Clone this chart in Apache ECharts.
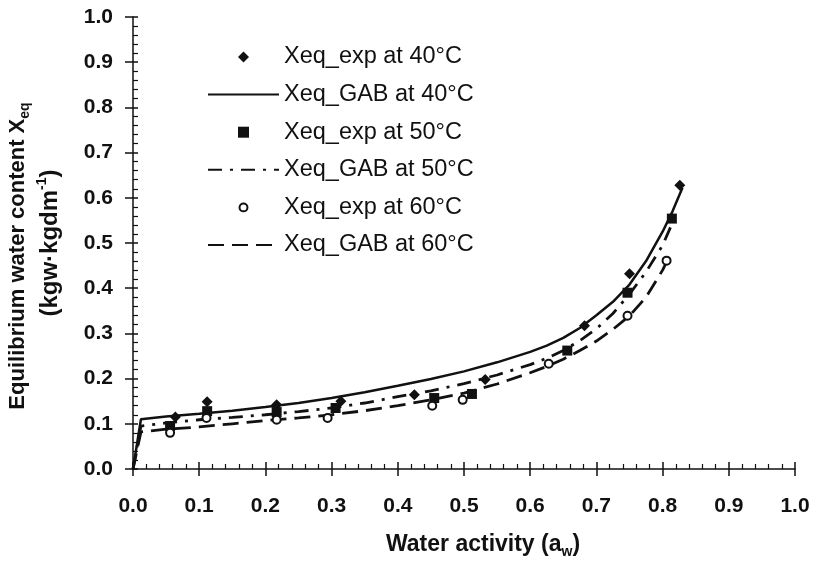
<!DOCTYPE html>
<html>
<head>
<meta charset="utf-8">
<script src="https://cdn.jsdelivr.net/npm/echarts@6/dist/echarts.min.js"></script>
<style>
  html, body { margin: 0; padding: 0; background: #fff; }
  #chart { width: 816px; height: 563px; }
</style>
</head>
<body>
<div id="chart"></div>
<script>
// Experimental sorption points (water activity, equilibrium water content)
const awExp40  = [0.064, 0.112, 0.217, 0.314, 0.425, 0.532, 0.682, 0.750, 0.826];
const xeqExp40 = [0.115, 0.149, 0.142, 0.150, 0.164, 0.198, 0.317, 0.432, 0.628];

const awExp50  = [0.056, 0.112, 0.217, 0.306, 0.455, 0.512, 0.656, 0.747, 0.814];
const xeqExp50 = [0.095, 0.128, 0.126, 0.135, 0.157, 0.166, 0.262, 0.390, 0.554];

const awExp60  = [0.056, 0.111, 0.217, 0.294, 0.452, 0.498, 0.628, 0.747, 0.806];
const xeqExp60 = [0.080, 0.113, 0.109, 0.113, 0.140, 0.153, 0.233, 0.339, 0.461];

// GAB model curves
const awGab40  = [0, 0.012, 0.05, 0.1, 0.15, 0.2, 0.25, 0.3, 0.35, 0.4, 0.45, 0.5, 0.55, 0.6, 0.625, 0.65, 0.675, 0.7, 0.725, 0.75, 0.775, 0.8, 0.815, 0.83];
const xeqGab40 = [0, 0.110, 0.116, 0.122, 0.129, 0.137, 0.146, 0.157, 0.170, 0.184, 0.199, 0.216, 0.236, 0.259, 0.273, 0.290, 0.312, 0.340, 0.370, 0.408, 0.460, 0.525, 0.570, 0.622];

const awGab50  = [0, 0.012, 0.05, 0.1, 0.15, 0.2, 0.25, 0.3, 0.35, 0.4, 0.45, 0.5, 0.55, 0.6, 0.625, 0.65, 0.675, 0.7, 0.725, 0.75, 0.775, 0.8, 0.815];
const xeqGab50 = [0, 0.095, 0.102, 0.109, 0.114, 0.120, 0.127, 0.135, 0.146, 0.160, 0.173, 0.189, 0.208, 0.231, 0.245, 0.262, 0.284, 0.310, 0.344, 0.387, 0.436, 0.495, 0.545];

const awGab60  = [0, 0.012, 0.05, 0.1, 0.15, 0.2, 0.25, 0.3, 0.35, 0.4, 0.45, 0.5, 0.55, 0.6, 0.625, 0.65, 0.675, 0.7, 0.725, 0.75, 0.775, 0.8, 0.81];
const xeqGab60 = [0, 0.082, 0.088, 0.093, 0.100, 0.107, 0.113, 0.120, 0.129, 0.140, 0.153, 0.168, 0.188, 0.213, 0.227, 0.243, 0.262, 0.283, 0.309, 0.339, 0.380, 0.440, 0.470];

const seriesNames = [
  'Xeq_exp at 40°C', 'Xeq_GAB at 40°C',
  'Xeq_exp at 50°C', 'Xeq_GAB at 50°C',
  'Xeq_exp at 60°C', 'Xeq_GAB at 60°C'
];
const axisTicks = [0, 0.1, 0.2, 0.3, 0.4, 0.5, 0.6, 0.7, 0.8, 0.9, 1.0];

const INK = '#111';
const FONT = '"Liberation Sans", Arial, sans-serif';
const pairs = (xs, ys) => xs.map((x, i) => [x, ys[i]]);

// legend marker outlines (kept square so they are not stretched)
const ICON_DIAMOND = 'path://M5,0L10,5L5,10L0,5Z';
const ICON_SQUARE  = 'path://M0.5,0.5L9.5,0.5L9.5,9.5L0.5,9.5Z';
const ICON_CIRCLE  = 'path://M0,0M10,10M5,1.4A3.6,3.6,0,1,1,5,8.6A3.6,3.6,0,1,1,5,1.4Z';

const chart = echarts.init(document.getElementById('chart'), null, { renderer: 'canvas' });

const tickText = v => axisTicks.reduce((a, b) => Math.abs(b - v) < Math.abs(a - v) ? b : a).toFixed(1);

// main axes: labels, axis line, inner major + minor ticks
function mainAxis(position, margin, inLen) {
  return {
    type: 'value', min: 0, max: 1, interval: 0.1, position: position,
    axisLine: { show: true, onZero: false, lineStyle: { color: INK, width: 1.5 } },
    axisTick: { show: true, inside: true, length: inLen, lineStyle: { color: INK, width: 1.5 } },
    minorTick: { show: true, splitNumber: 5, length: 5, lineStyle: { color: INK, width: 1.2 } },
    splitLine: { show: false },
    axisLabel: {
      color: INK, fontFamily: FONT, fontWeight: 'bold', fontSize: 21,
      margin: margin, formatter: tickText
    }
  };
}
// companion axes: outer half of each major tick
function outerAxis(position, outLen) {
  return {
    type: 'value', min: 0, max: 1, interval: 0.1, position: position,
    axisLine: { show: false, onZero: false },
    axisTick: { show: true, inside: false, length: outLen, lineStyle: { color: INK, width: 1.5 } },
    minorTick: { show: false },
    splitLine: { show: false },
    axisLabel: { show: false }
  };
}

const hiddenDot = { opacity: 0 };

const option = {
  animation: false,
  backgroundColor: '#fff',
  grid: { left: 133, right: 21, top: 17, bottom: 94, containLabel: false },
  xAxis: [ mainAxis('bottom', 27, 7), outerAxis('bottom', 7) ],
  yAxis: [ mainAxis('left', 20, 5), outerAxis('left', 8) ],
  legend: {
    orient: 'vertical',
    left: 207, top: 45, padding: 0,
    itemWidth: 71, itemHeight: 11,
    itemGap: 13.6,
    textStyle: { color: INK, fontFamily: FONT, fontSize: 23.5, lineHeight: 24 },
    data: [
      { name: seriesNames[0], icon: ICON_DIAMOND },
      { name: seriesNames[1], itemStyle: hiddenDot },
      { name: seriesNames[2], icon: ICON_SQUARE },
      { name: seriesNames[3], itemStyle: hiddenDot },
      { name: seriesNames[4], icon: ICON_CIRCLE,
        itemStyle: { color: '#fff', borderColor: INK, borderWidth: 2 } },
      { name: seriesNames[5], itemStyle: hiddenDot }
    ]
  },
  graphic: [
    {
      type: 'text', x: 483, y: 545,
      style: {
        text: '{t|Water activity (a}{s|w}{t|)}',
        align: 'center', verticalAlign: 'middle',
        rich: {
          t: { fontFamily: FONT, fontWeight: 'bold', fontSize: 23, fill: INK, lineHeight: 28 },
          s: { fontFamily: FONT, fontWeight: 'bold', fontSize: 14, fill: INK, lineHeight: 28, verticalAlign: 'bottom' }
        }
      }
    },
    {
      type: 'text', x: 18, y: 256, rotation: Math.PI / 2,
      style: {
        text: '{t|Equilibrium water content X}{s|eq}',
        align: 'center', verticalAlign: 'middle',
        rich: {
          t: { fontFamily: FONT, fontWeight: 'bold', fontSize: 22, fill: INK, lineHeight: 28 },
          s: { fontFamily: FONT, fontWeight: 'bold', fontSize: 14, fill: INK, lineHeight: 28, verticalAlign: 'bottom' }
        }
      }
    },
    {
      type: 'text', x: 50, y: 243, rotation: Math.PI / 2,
      style: {
        text: '{t|(kgw·kgdm}{p|-1}{t|)}',
        align: 'center', verticalAlign: 'middle',
        rich: {
          t: { fontFamily: FONT, fontWeight: 'bold', fontSize: 24, fill: INK, lineHeight: 30 },
          p: { fontFamily: FONT, fontWeight: 'bold', fontSize: 14, fill: INK, lineHeight: 30, verticalAlign: 'top' }
        }
      }
    }
  ],
  series: [
    {
      name: seriesNames[0], type: 'scatter', z: 5,
      symbol: 'diamond', symbolSize: 11,
      itemStyle: { color: INK, opacity: 1 },
      data: pairs(awExp40, xeqExp40)
    },
    {
      name: seriesNames[1], type: 'line', z: 3,
      symbol: 'none', smooth: false,
      lineStyle: { color: INK, width: 2.5, type: 'solid' },
      itemStyle: { color: INK },
      data: pairs(awGab40, xeqGab40)
    },
    {
      name: seriesNames[2], type: 'scatter', z: 5,
      symbol: 'rect', symbolSize: 10,
      itemStyle: { color: INK, opacity: 1 },
      data: pairs(awExp50, xeqExp50)
    },
    {
      name: seriesNames[3], type: 'line', z: 3,
      symbol: 'none', smooth: false,
      lineStyle: { color: INK, width: 2.8, type: [14, 8, 3, 8] },
      itemStyle: { color: INK },
      data: pairs(awGab50, xeqGab50)
    },
    {
      name: seriesNames[4], type: 'scatter', z: 5,
      symbol: 'circle', symbolSize: 8,
      itemStyle: { color: '#fff', borderColor: INK, borderWidth: 2, opacity: 1 },
      data: pairs(awExp60, xeqExp60)
    },
    {
      name: seriesNames[5], type: 'line', z: 3,
      symbol: 'none', smooth: false,
      lineStyle: { color: INK, width: 2.8, type: [16, 8] },
      itemStyle: { color: INK },
      data: pairs(awGab60, xeqGab60)
    }
  ]
};

chart.setOption(option);
</script>
</body>
</html>
